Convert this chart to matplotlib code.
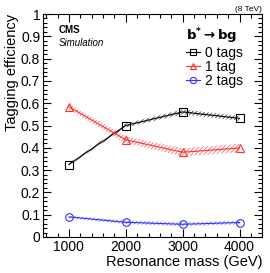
import matplotlib
matplotlib.use("Agg")
import matplotlib.pyplot as plt
from matplotlib.ticker import MultipleLocator
from matplotlib.lines import Line2D

plt.rcParams['font.family'] = ['Liberation Sans', 'DejaVu Sans']
plt.rcParams['hatch.linewidth'] = 0.6

masses = [1000, 2000, 3000, 4000]
eff_0tag = [0.325, 0.500, 0.561, 0.532]
err_0tag = [0.006, 0.009, 0.011, 0.011]
eff_1tag = [0.584, 0.436, 0.380, 0.399]
err_1tag = [0.012, 0.016, 0.018, 0.020]
eff_2tag = [0.090, 0.066, 0.057, 0.065]
err_2tag = [0.006, 0.008, 0.008, 0.008]

series = [
    ("0 tags", eff_0tag, err_0tag, "black", "s"),
    ("1 tag", eff_1tag, err_1tag, "#ff3333", "^"),
    ("2 tags", eff_2tag, err_2tag, "#3333ff", "o"),
]

fig = plt.figure(figsize=(2.70, 2.73), dpi=100)
ax = fig.add_axes([43/270, 1-237/273, 219/270, 223/273])

handles = []
for label, vals, errs, col, mk in series:
    lo = [v - e for v, e in zip(vals, errs)]
    hi = [v + e for v, e in zip(vals, errs)]
    ax.fill_between(masses, lo, hi, facecolor='none', edgecolor=col,
                    hatch='////////', linewidth=0, alpha=0.7)
    ax.plot(masses, vals, color=col, lw=0.8, marker=mk, ms=5.5,
            mfc='none', mec=col, mew=0.8)
    handles.append(Line2D([], [], color=col, lw=0.8, marker=mk, ms=4.5,
                          mfc='none', mec=col, mew=0.8))

ax.set_xlim(545, 4395)
ax.set_ylim(0, 1)
ax.xaxis.set_major_locator(MultipleLocator(1000))
ax.xaxis.set_minor_locator(MultipleLocator(200))
ax.yaxis.set_major_locator(MultipleLocator(0.1))
ax.yaxis.set_minor_locator(MultipleLocator(0.02))
ax.tick_params(which='both', direction='in', top=True, right=True,
               labelsize=10, width=0.8, pad=2)
ax.tick_params(which='major', length=6)
ax.tick_params(which='minor', length=3)
ax.set_yticks([0, 0.1, 0.2, 0.3, 0.4, 0.5, 0.6, 0.7, 0.8, 0.9, 1])
ax.set_yticklabels(["0", "0.1", "0.2", "0.3", "0.4", "0.5", "0.6", "0.7", "0.8", "0.9", "1"])
for s in ax.spines.values():
    s.set_linewidth(0.8)

ax.set_xlabel("Resonance mass (GeV)", fontsize=10.5, loc='right', labelpad=1)
ax.set_ylabel("Tagging efficiency", fontsize=10.5, loc='top', labelpad=1)

ax.text(0.07, 0.93, "CMS", transform=ax.transAxes, fontsize=7,
        fontweight='bold', va='center')
ax.text(0.07, 0.87, "Simulation", transform=ax.transAxes, fontsize=7,
        fontstyle='italic', va='center')
ax.text(1.0, 1.005, "(8 TeV)", transform=ax.transAxes, fontsize=6,
        ha='right', va='bottom')

leg = ax.legend(handles, [s[0] for s in series], loc='upper left',
                bbox_to_anchor=(0.655, 0.945), frameon=False, fontsize=10,
                title=r"$\mathbf{b^{*}\rightarrow bg}$", title_fontsize=9.5,
                handlelength=1.0, handletextpad=0.3, labelspacing=0.0,
                borderpad=0.0, borderaxespad=0.0)
leg._legend_box.align = "left"

fig.savefig("out.png", dpi=100)
